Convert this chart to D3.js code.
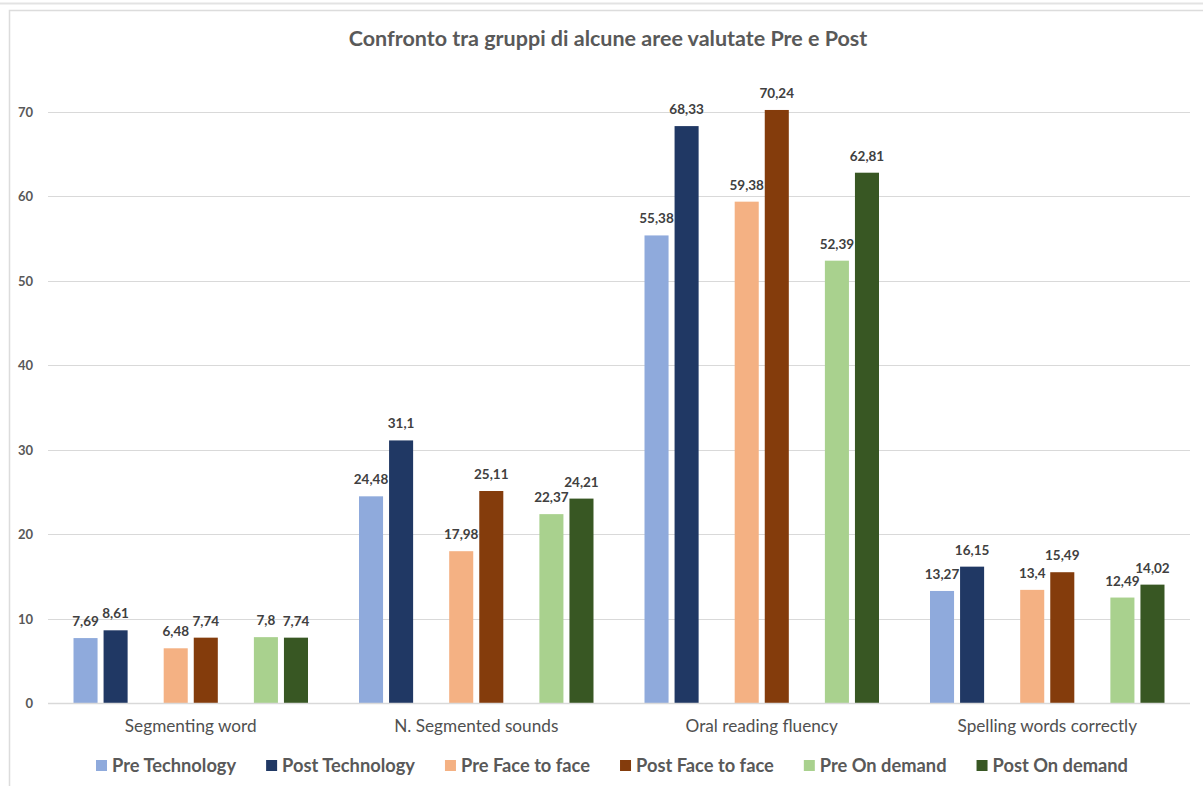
<!DOCTYPE html>
<html>
<head>
<meta charset="utf-8">
<script src="https://cdn.jsdelivr.net/npm/d3@7"></script>
<style>
  html, body { margin: 0; padding: 0; background: #fff; }
  svg { display: block; }
  text { font-family: Lato, "Open Sans", sans-serif; }
</style>
</head>
<body>
<svg id="chart" width="1203" height="786"></svg>
<script>
// Areas evaluated before and after, by group
const categories = ["Segmenting word", "N. Segmented sounds", "Oral reading fluency", "Spelling words correctly"];
const seriesNames = ["Pre Technology", "Post Technology", "Pre Face to face", "Post Face to face", "Pre On demand", "Post On demand"];
const preTechnology    = [7.69, 24.48, 55.38, 13.27];
const postTechnology   = [8.61, 31.1, 68.33, 16.15];
const preFaceToFace    = [6.48, 17.98, 59.38, 13.4];
const postFaceToFace   = [7.74, 25.11, 70.24, 15.49];
const preOnDemand      = [7.8, 22.37, 52.39, 12.49];
const postOnDemand     = [7.74, 24.21, 62.81, 14.02];
const seriesColors = ["#8faadc", "#203864", "#f4b183", "#843c0c", "#a9d18e", "#385723"];
const yTicks = [0, 10, 20, 30, 40, 50, 60, 70];
const titleText = "Confronto tra gruppi di alcune aree valutate Pre e Post";

const seriesValues = [preTechnology, postTechnology, preFaceToFace, postFaceToFace, preOnDemand, postOnDemand];

const svg = d3.select("#chart");
const W = 1203, H = 786;
const textGrey = "#595959";

// outer frame
svg.append("line").attr("x1", 0).attr("x2", W).attr("y1", 3.5).attr("y2", 3.5)
  .attr("stroke", "#e3e3e3").attr("stroke-width", 2);
svg.append("path").attr("d", `M9.5,${H} V10.5 H${W}`)
  .attr("fill", "none").attr("stroke", "#dcdcdc").attr("stroke-width", 1.5);

const plot = { left: 48, right: 1190, top: 112, bottom: 703 };

const x = d3.scaleBand().domain(categories)
  .range([plot.left, plot.right]).paddingInner(0.1576).paddingOuter(0.0788);

// slots inside each cluster: pairs separated by an empty slot
const slotKeys = ["s0", "s1", "gap1", "s2", "s3", "gap2", "s4", "s5"];
const seriesSlot = ["s0", "s1", "s2", "s3", "s4", "s5"];
const xInner = d3.scaleBand().domain(slotKeys)
  .range([0, x.bandwidth()]).paddingInner(0.2).paddingOuter(0.1);

const y = d3.scaleLinear().domain([0, 70]).range([plot.bottom, plot.top]);

// gridlines
svg.append("g").selectAll("line").data(yTicks.filter(t => t > 0)).join("line")
  .attr("x1", plot.left).attr("x2", plot.right)
  .attr("y1", d => Math.round(y(d)) + 0.5).attr("y2", d => Math.round(y(d)) + 0.5)
  .attr("stroke", "#d9d9d9").attr("stroke-width", 1);

// y axis labels
const yAxis = d3.axisLeft(y).tickValues(yTicks).tickSize(0).tickPadding(0).tickFormat(d3.format("d"));
const yg = svg.append("g").attr("transform", `translate(33,0)`).call(yAxis);
yg.select(".domain").remove();
yg.selectAll("text").attr("fill", textGrey).attr("font-size", 13).attr("font-weight", 700)
  .attr("font-family", "Lato, sans-serif").attr("dy", "0.35em");

// bars
const fmt = v => String(v).replace(".", ",");
const groups = svg.append("g").selectAll("g").data(categories).join("g")
  .attr("transform", d => `translate(${x(d)},0)`);

seriesValues.forEach((vals, si) => {
  groups.append("rect")
    .attr("x", (d, ci) => xInner(seriesSlot[si]))
    .attr("width", xInner.bandwidth())
    .attr("y", (d, ci) => y(vals[ci]))
    .attr("height", (d, ci) => y(0) - y(vals[ci]))
    .attr("fill", seriesColors[si]);
  groups.append("text")
    .attr("x", (d, ci) => xInner(seriesSlot[si]) + xInner.bandwidth() / 2)
    .attr("y", (d, ci) => y(vals[ci]) - 12)
    .attr("text-anchor", "middle")
    .attr("font-size", 13.5).attr("font-weight", 700).attr("fill", "#404040")
    .text((d, ci) => fmt(vals[ci]));
});

// baseline
svg.append("line").attr("x1", plot.left).attr("x2", plot.right)
  .attr("y1", plot.bottom + 0.5).attr("y2", plot.bottom + 0.5)
  .attr("stroke", "#d9d9d9").attr("stroke-width", 1.5);

// category axis
const xAxis = d3.axisBottom(x).tickSize(0).tickPadding(0);
const xg = svg.append("g").attr("transform", `translate(0,${plot.bottom})`).call(xAxis);
xg.select(".domain").remove();
xg.selectAll("text").attr("fill", "#505050").attr("font-size", 17.2).attr("font-weight", 400)
  .attr("font-family", "Lato, sans-serif").attr("dy", 0).attr("y", 29);

// title
svg.append("text").attr("x", 608).attr("y", 46).attr("text-anchor", "middle")
  .attr("font-size", 21.5).attr("font-weight", 700).attr("fill", textGrey)
  .text(titleText);

// legend
const legend = svg.append("g");
const items = legend.selectAll("g").data(seriesNames).join("g");
items.append("rect").attr("width", 11).attr("height", 11).attr("y", -6)
  .attr("fill", (d, i) => seriesColors[i]);
items.append("text").attr("x", 16).attr("y", 0).attr("dy", "0.35em")
  .attr("font-size", 18.3).attr("font-weight", 700).attr("fill", textGrey)
  .text(d => d);
let cx = 0;
const itemGap = 30;
items.each(function () {
  const w = 16 + d3.select(this).select("text").node().getComputedTextLength();
  d3.select(this).attr("transform", `translate(${cx},0)`);
  cx += w + itemGap;
});
const legendWidth = cx - itemGap;
legend.attr("transform", `translate(${612 - legendWidth / 2},766)`);
</script>
</body>
</html>
